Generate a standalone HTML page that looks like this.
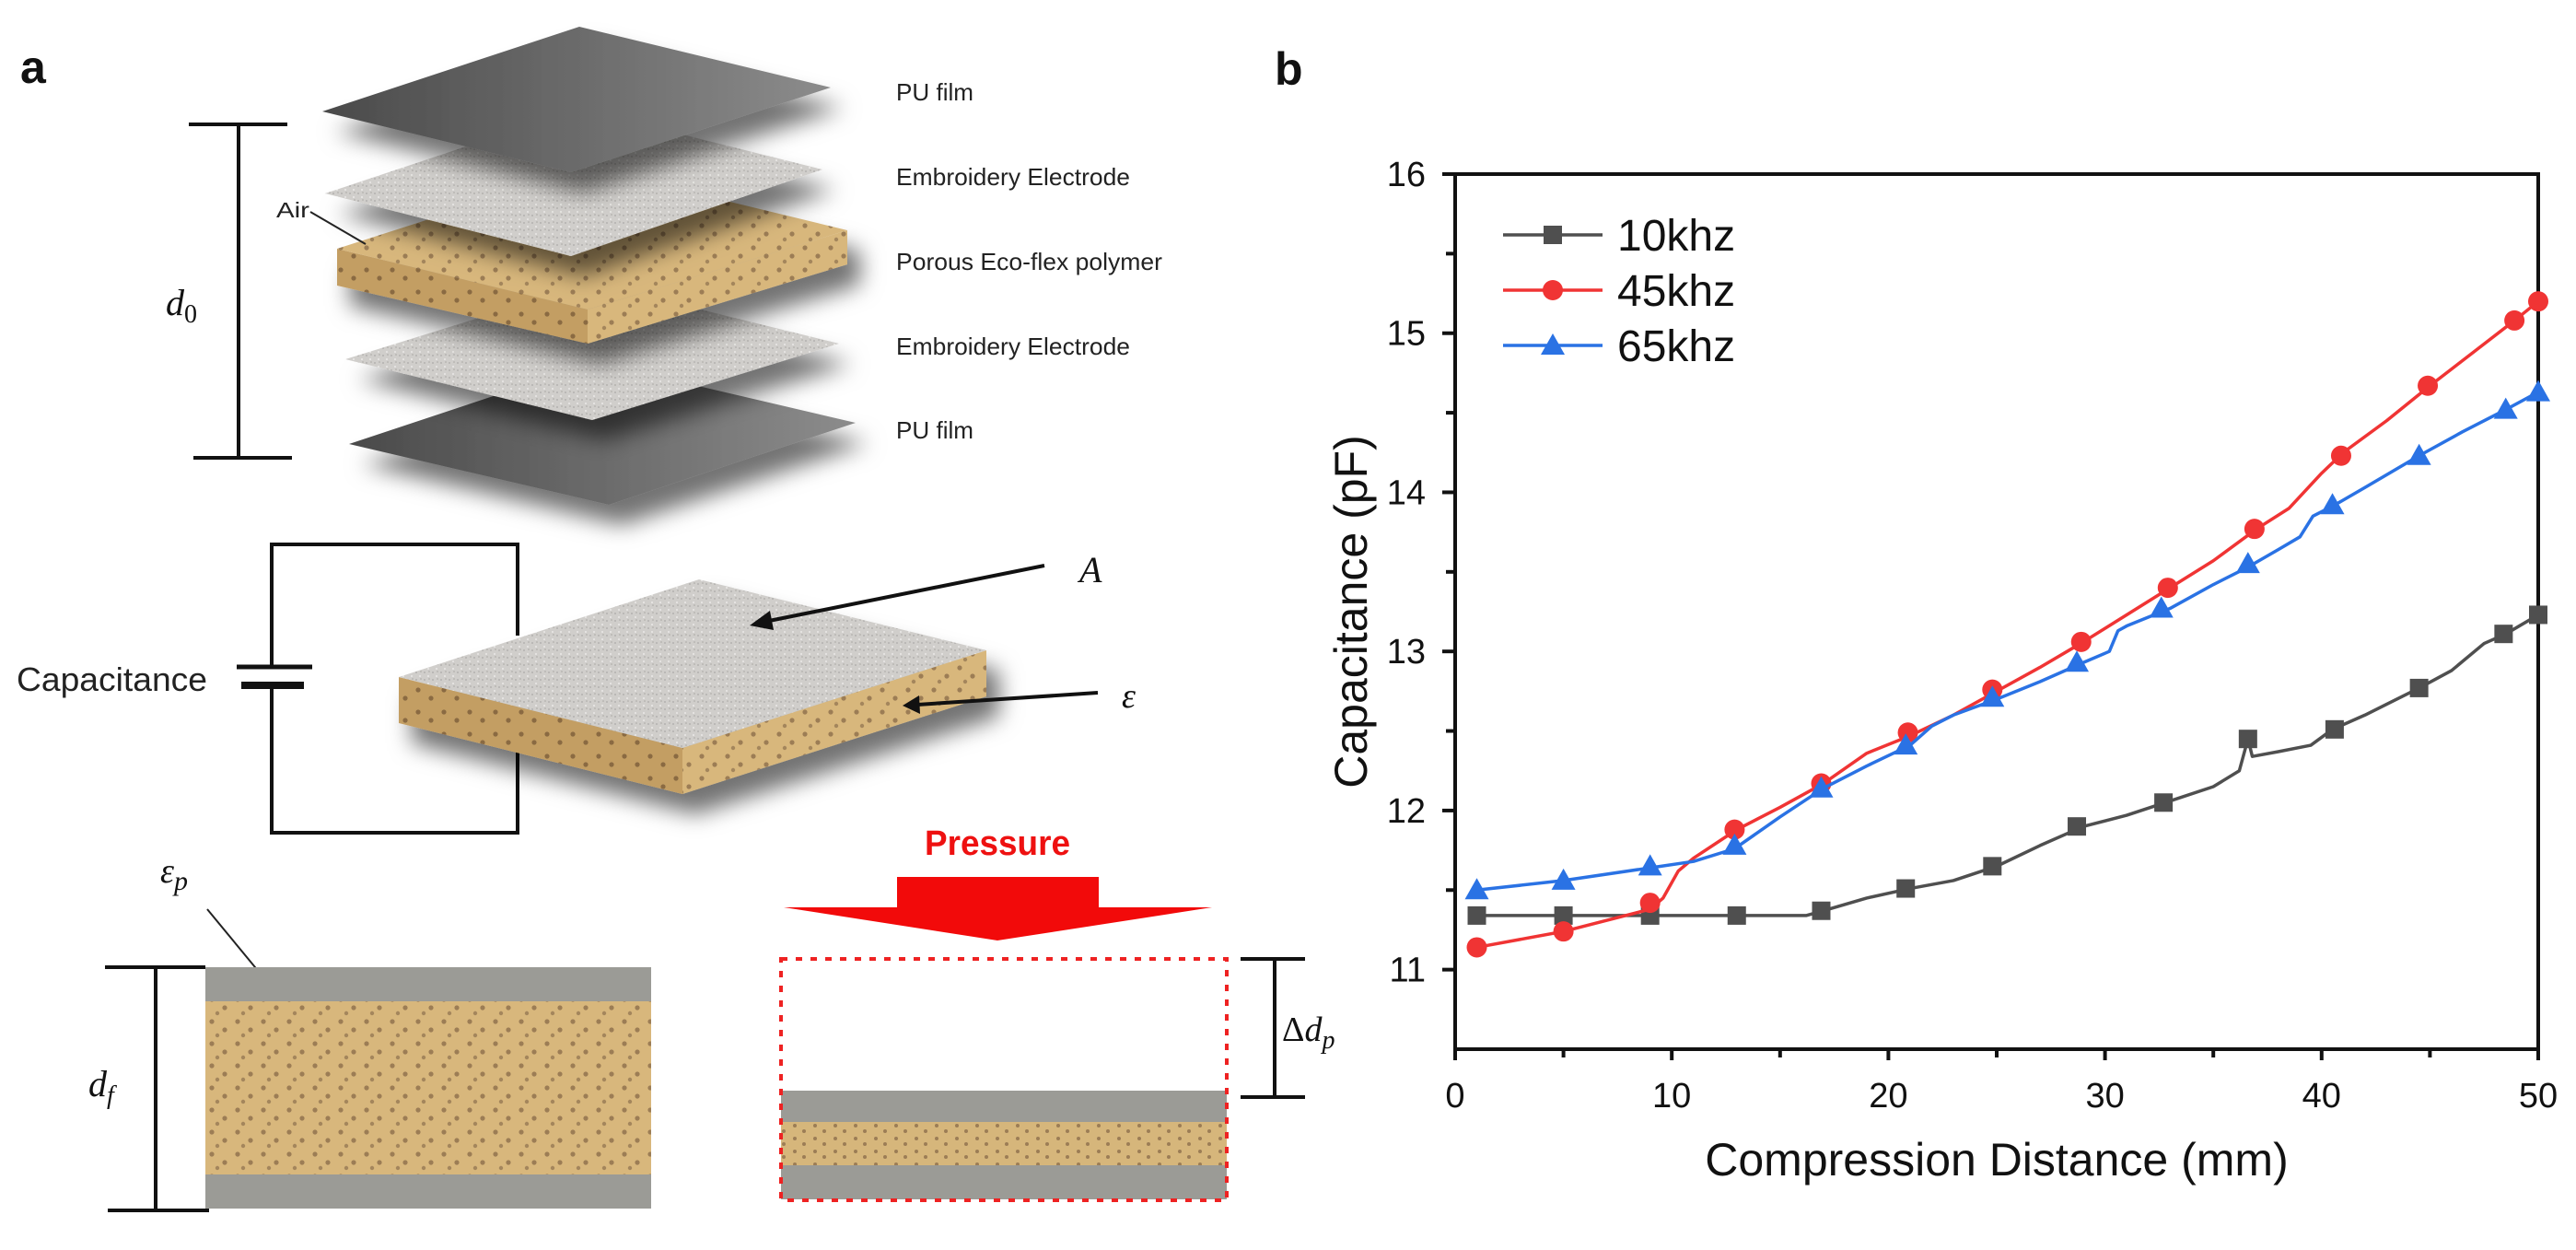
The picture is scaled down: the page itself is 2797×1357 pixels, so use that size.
<!DOCTYPE html>
<html><head><meta charset="utf-8"><style>
html,body{margin:0;padding:0;background:#fff;}
svg{display:block;}
.lbl{font-family:"Liberation Sans Narrow","Liberation Sans",sans-serif;fill:#222;}
.math{font-family:"Liberation Serif",serif;font-style:italic;fill:#111;}
.ax{font-family:"Liberation Sans",sans-serif;fill:#111;}
</style></head><body>
<svg id="fig" width="2797" height="1357" viewBox="0 0 2797 1357" xmlns="http://www.w3.org/2000/svg">
<defs>
<filter id="shadow" x="-20%" y="-20%" width="150%" height="160%"><feDropShadow dx="14" dy="22" stdDeviation="12" flood-color="#000" flood-opacity="0.55"/></filter>
<pattern id="speck" width="9" height="8" patternUnits="userSpaceOnUse"><rect width="9" height="8" fill="#d0cecb"/><circle cx="2" cy="2" r="1" fill="#b4b2af"/><circle cx="6" cy="6" r="1.1" fill="#e6e5e2"/><circle cx="7" cy="1" r="0.8" fill="#a9a7a4"/></pattern>
<linearGradient id="pugrad" x1="0" y1="0" x2="1" y2="0"><stop offset="0" stop-color="#4a4a4a"/><stop offset="1" stop-color="#8c8c8c"/></linearGradient>
<pattern id="dots" width="28" height="24" patternUnits="userSpaceOnUse"><rect width="28" height="24" fill="#d8b77c"/><circle cx="6" cy="5" r="2.6" fill="#9c7d55"/><circle cx="20" cy="14" r="2.6" fill="#9c7d55"/><circle cx="12" cy="20" r="2.2" fill="#a4865c"/></pattern>
<pattern id="dotsDark" width="28" height="24" patternUnits="userSpaceOnUse"><rect width="28" height="24" fill="#c39e63"/><circle cx="6" cy="5" r="2.6" fill="#8a6a42"/><circle cx="20" cy="14" r="2.6" fill="#8a6a42"/></pattern>
<pattern id="dotsSmall" width="22" height="14" patternUnits="userSpaceOnUse"><rect width="22" height="14" fill="#d6b67b"/><circle cx="5" cy="4" r="2" fill="#9c7d55"/><circle cx="15" cy="10" r="2" fill="#9c7d55"/></pattern>
</defs>

<!-- Panel a -->
<text x="22" y="90" font-family="Liberation Sans, sans-serif" font-weight="bold" font-size="50" fill="#111">a</text>

<g>
  <polygon points="379,482 647,393 929,459 661,548" fill="url(#pugrad)" filter="url(#shadow)"/>
  <polygon points="375,390 643,307 911,373 643,456" fill="url(#speck)" filter="url(#shadow)"/>
  <g filter="url(#shadow)">
    <polygon points="366,270 638,336 638,373 366,310" fill="url(#dotsDark)"/>
    <polygon points="638,336 920,250 920,287 638,373" fill="url(#dots)"/>
    <polygon points="366,270 640,182 920,250 638,336" fill="url(#dots)"/>
  </g>
  <polygon points="353,210 629,118 893,184 620,278" fill="url(#speck)" filter="url(#shadow)"/>
  <polygon points="350,121 629,29 902,95 620,187" fill="url(#pugrad)" filter="url(#shadow)"/>
</g>
<g stroke="#111" stroke-width="4">
  <line x1="205" y1="135" x2="312" y2="135"/><line x1="259" y1="135" x2="259" y2="497"/><line x1="210" y1="497" x2="317" y2="497"/>
</g>
<text class="math" x="180" y="342" font-size="40">d<tspan font-style="normal" font-size="28" dy="8">0</tspan></text>
<text class="lbl" x="300" y="236" font-size="23" textLength="36" lengthAdjust="spacingAndGlyphs">Air</text>
<line x1="337" y1="230" x2="397" y2="265" stroke="#222" stroke-width="2"/>
<text class="lbl" x="973" y="109" font-size="26" textLength="84" lengthAdjust="spacingAndGlyphs">PU film</text>
<text class="lbl" x="973" y="201" font-size="26" textLength="254" lengthAdjust="spacingAndGlyphs">Embroidery Electrode</text>
<text class="lbl" x="973" y="293" font-size="26" textLength="289" lengthAdjust="spacingAndGlyphs">Porous Eco-flex polymer</text>
<text class="lbl" x="973" y="385" font-size="26" textLength="254" lengthAdjust="spacingAndGlyphs">Embroidery Electrode</text>
<text class="lbl" x="973" y="476" font-size="26" textLength="84" lengthAdjust="spacingAndGlyphs">PU film</text>

<!-- circuit -->
<g stroke="#111" stroke-width="4" fill="none">
  <polyline points="295,724 295,591 562,591 562,690"/>
  <polyline points="295,743 295,904 562,904 562,810"/>
</g>
<line x1="257" y1="724" x2="339" y2="724" stroke="#111" stroke-width="5"/>
<line x1="262" y1="744" x2="330" y2="744" stroke="#111" stroke-width="8"/>
<text class="lbl" x="18" y="750" font-size="36" textLength="207" lengthAdjust="spacingAndGlyphs">Capacitance</text>
<g filter="url(#shadow)">
  <polygon points="433,735 741,812 741,862 433,785" fill="url(#dotsDark)"/>
  <polygon points="741,812 1071,706 1071,756 741,862" fill="url(#dots)"/>
  <polygon points="433,735 759,629 1071,706 741,812" fill="url(#speck)"/>
</g>
<g>
  <line x1="1134" y1="614" x2="830" y2="675" stroke="#111" stroke-width="4"/>
  <polygon points="814,679 836,663 840,684" fill="#111"/>
</g>
<text class="math" x="1172" y="632" font-size="40">A</text>
<g>
  <line x1="1192" y1="752" x2="996" y2="765" stroke="#111" stroke-width="4"/>
  <polygon points="980,766 998,755 999,775" fill="#111"/>
</g>
<text class="math" x="1218" y="768" font-size="38">ε</text>

<!-- uncompressed -->
<text class="math" x="174" y="958" font-size="38">ε<tspan font-size="30" dy="8">p</tspan></text>
<line x1="225" y1="987" x2="324" y2="1107" stroke="#222" stroke-width="2"/>
<g>
  <rect x="223" y="1050" width="484" height="37" fill="#9b9b96"/>
  <rect x="223" y="1087" width="484" height="188" fill="url(#dots)"/>
  <rect x="223" y="1275" width="484" height="37" fill="#9b9b96"/>
</g>
<g stroke="#111" stroke-width="4">
  <line x1="114" y1="1050" x2="223" y2="1050"/><line x1="169" y1="1050" x2="169" y2="1314"/><line x1="117" y1="1314" x2="227" y2="1314"/>
</g>
<text class="math" x="96" y="1190" font-size="40">d<tspan font-size="28" dy="8">f</tspan></text>

<!-- compressed -->
<text x="1083" y="928" text-anchor="middle" font-family="Liberation Sans Narrow, Liberation Sans, sans-serif" font-weight="bold" font-size="38" fill="#ee1111" textLength="158" lengthAdjust="spacingAndGlyphs">Pressure</text>
<polygon points="974,952 1193,952 1193,985 1316,985 1083,1021 851,985 974,985" fill="#f20a0a"/>
<g>
  <rect x="848" y="1184" width="484" height="34" fill="#9b9b96"/>
  <rect x="848" y="1218" width="484" height="47" fill="url(#dotsSmall)"/>
  <rect x="848" y="1265" width="484" height="37" fill="#9b9b96"/>
</g>
<rect x="848" y="1041" width="484" height="262" fill="none" stroke="#ee2222" stroke-width="4" stroke-dasharray="7 9"/>
<g stroke="#111" stroke-width="4">
  <line x1="1347" y1="1041" x2="1417" y2="1041"/><line x1="1384" y1="1041" x2="1384" y2="1191"/><line x1="1347" y1="1191" x2="1417" y2="1191"/>
</g>
<text class="math" x="1392" y="1130" font-size="38"><tspan font-style="normal">Δ</tspan>d<tspan font-size="28" dy="8">p</tspan></text>

<!-- Panel b -->
<text x="1384" y="92" font-family="Liberation Sans, sans-serif" font-weight="bold" font-size="50" fill="#111">b</text>
<g id="chart"></g>
</svg>
<script>
const xTicks = [0, 10, 20, 30, 40, 50];
const yTicks = [11, 12, 13, 14, 15, 16];
const seriesNames = ["10khz", "45khz", "65khz"];
const line10X = [1,5,9,13,16.2,17,19,21,23,25,27,29,31,33,35,36.2,36.6,36.8,38,39.5,40.5,42,44.5,46,47.5,48.5,50];
const line10Y = [11.34,11.34,11.34,11.34,11.34,11.37,11.45,11.51,11.56,11.65,11.78,11.90,11.97,12.06,12.15,12.25,12.45,12.34,12.37,12.41,12.51,12.60,12.77,12.88,13.05,13.11,13.23];
const mark10X = [1,5,9,13,16.9,20.8,24.8,28.7,32.7,36.6,40.6,44.5,48.4,50];
const mark10Y = [11.34,11.34,11.34,11.34,11.37,11.51,11.65,11.90,12.05,12.45,12.51,12.77,13.11,13.23];
const line45X = [1,5,9,9.6,10.3,11,13,15,17,19,21,23,25,27,29,31,33,35,37,38.5,40,41,43,45,47,49,50];
const line45Y = [11.14,11.24,11.38,11.45,11.62,11.70,11.88,12.02,12.17,12.36,12.47,12.60,12.75,12.90,13.06,13.23,13.40,13.57,13.77,13.90,14.12,14.25,14.45,14.67,14.88,15.09,15.20];
const mark45X = [1,5,9,12.9,16.9,20.9,24.8,28.9,32.9,36.9,40.9,44.9,48.9,50];
const mark45Y = [11.14,11.24,11.42,11.88,12.17,12.49,12.76,13.06,13.40,13.77,14.23,14.67,15.08,15.20];
const line65X = [1,5,9,11,12.9,15,17,19,21,22,23,25,27,29,30.2,30.6,31,33,35,36.6,38,39,39.6,40.6,42,44.5,46.5,48.5,50];
const line65Y = [11.50,11.56,11.64,11.68,11.76,11.96,12.14,12.28,12.41,12.53,12.60,12.70,12.81,12.93,13.00,13.13,13.16,13.27,13.42,13.53,13.64,13.72,13.85,13.92,14.03,14.23,14.38,14.52,14.63];
const mark65X = [1,5,9,12.9,16.9,20.8,24.8,28.7,32.6,36.6,40.5,44.5,48.5,50];
const mark65Y = [11.50,11.56,11.65,11.78,12.14,12.41,12.71,12.93,13.27,13.55,13.92,14.23,14.52,14.63];

const NS = "http://www.w3.org/2000/svg";
const L = 1580, R = 2756, T = 189, B = 1139;
const xMin = 0, xMax = 50, yMin = 10.5, yMax = 16;
const sx = v => L + (v - xMin) / (xMax - xMin) * (R - L);
const sy = v => B - (v - yMin) / (yMax - yMin) * (B - T);
const chart = document.getElementById("chart");
function mk(tag, attrs, parent) {
  const e = document.createElementNS(NS, tag);
  for (const k in attrs) e.setAttribute(k, attrs[k]);
  (parent || chart).appendChild(e);
  return e;
}
const frame = mk("rect", {x: L, y: T, width: R - L, height: B - T, fill: "none", stroke: "#111", "stroke-width": 4});


for (let v = 0; v <= 50; v += 5) {
  const major = v % 10 === 0;
  const t = mk("line", {x1: sx(v), x2: sx(v), y1: B, y2: B + (major ? 12 : 9), stroke: "#111", "stroke-width": 4});
  
  
}
xTicks.forEach(v => {
  const t = mk("text", {x: sx(v), y: B + 63, "text-anchor": "middle", "font-size": 38, class: "ax"});
  t.textContent = v;
  
  
});
for (let v = 11; v <= 16; v += 0.5) {
  const major = Number.isInteger(v);
  const t = mk("line", {x1: L - (major ? 14 : 10), x2: L, y1: sy(v), y2: sy(v), stroke: "#111", "stroke-width": 4});
  
  
}
yTicks.forEach(v => {
  const t = mk("text", {x: L - 32, y: sy(v) + 13, "text-anchor": "end", "font-size": 38, class: "ax"});
  t.textContent = v;
  
  
});
const xt = mk("text", {x: (L + R) / 2, y: 1276, "text-anchor": "middle", "font-size": 50, class: "ax"});
xt.textContent = "Compression Distance (mm)";


const yt = mk("text", {x: 0, y: 0, "text-anchor": "middle", "font-size": 50, class: "ax", transform: `translate(1484,${(T + B) / 2}) rotate(-90)`});
yt.textContent = "Capacitance (pF)";



const colors = ["#4f4f4f", "#f03434", "#2a72e4"];
const shapes = ["square", "circle", "triangle"];
const lines = [[line10X, line10Y], [line45X, line45Y], [line65X, line65Y]];
const marks = [[mark10X, mark10Y], [mark45X, mark45Y], [mark65X, mark65Y]];
function marker(shape, cx, cy, color, parent) {
  if (shape === "square") return mk("rect", {x: cx - 10, y: cy - 10, width: 20, height: 20, fill: color}, parent);
  if (shape === "circle") return mk("circle", {cx: cx, cy: cy, r: 11, fill: color}, parent);
  return mk("polygon", {points: `${cx},${cy - 13} ${cx + 13},${cy + 10} ${cx - 13},${cy + 10}`, fill: color}, parent);
}
for (let s = 0; s < 3; s++) {
  const g = mk("g", {});
  
  
  const pts = lines[s][0].map((x, i) => sx(x) + "," + sy(lines[s][1][i])).join(" ");
  const pl = mk("polyline", {points: pts, fill: "none", stroke: colors[s], "stroke-width": 3.5, "stroke-linejoin": "round"}, g);
  
  
  marks[s][0].forEach((x, i) => {
    const m = marker(shapes[s], sx(x), sy(marks[s][1][i]), colors[s], g);
    
    
  });
}
const legendY = [255, 315, 375];
for (let s = 0; s < 3; s++) {
  const g = mk("g", {});
  
  
  mk("line", {x1: 1632, x2: 1740, y1: legendY[s], y2: legendY[s], stroke: colors[s], "stroke-width": 3.5}, g);
  marker(shapes[s], 1686, legendY[s], colors[s], g);
  const t = mk("text", {x: 1756, y: legendY[s] + 17, "font-size": 48, class: "ax"}, g);
  t.textContent = seriesNames[s];
}
</script>
</body></html>
